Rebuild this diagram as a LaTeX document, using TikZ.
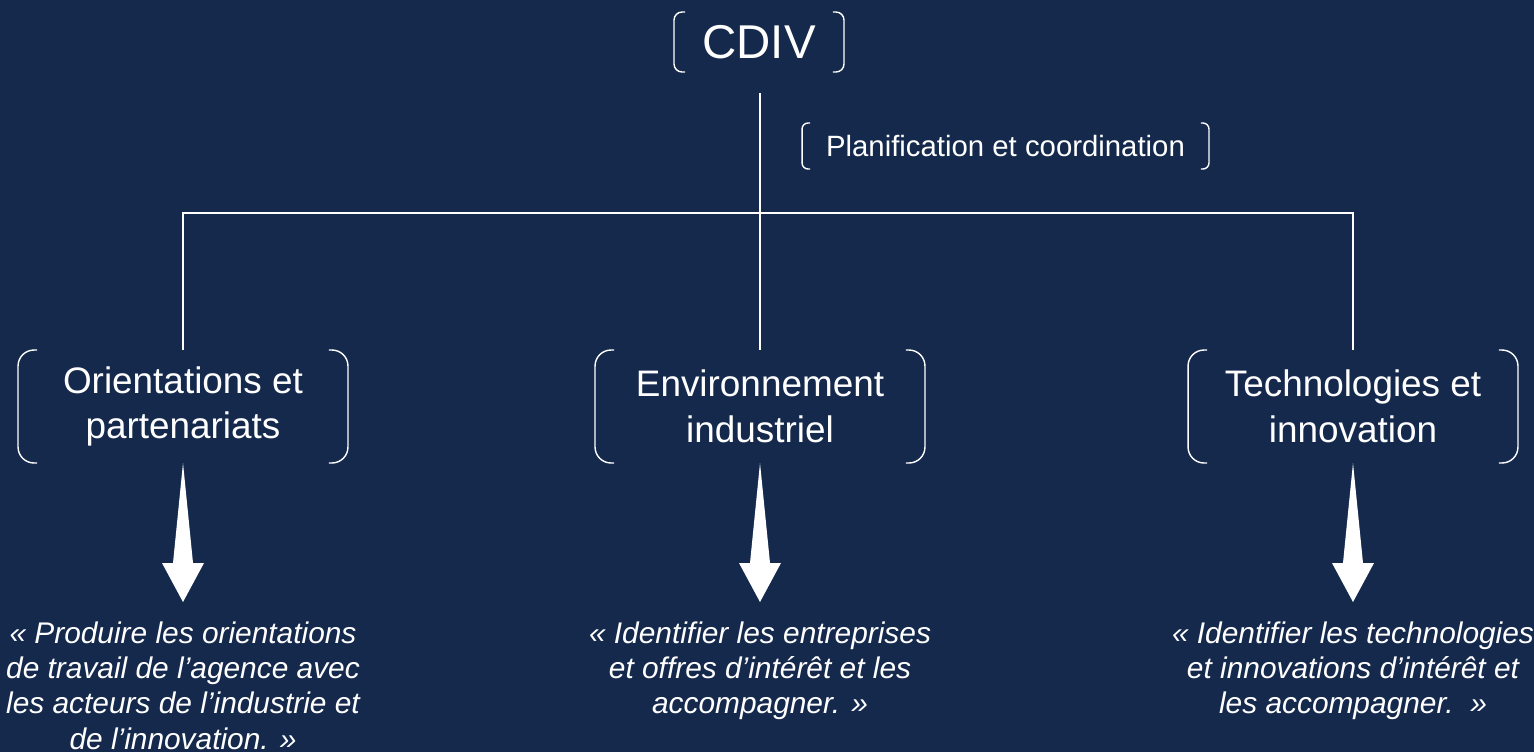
\documentclass[tikz,border=0pt]{standalone}
\usepackage{fontspec}
\setmainfont{Liberation Sans}
\definecolor{navy}{RGB}{21,41,77}

% white half-brackets on both sides of a node
\newcommand{\bracketpair}[3]{%
  \draw[link,rounded corners=#2] (#1.north west) ++(#3,0) -- (#1.north west) -- (#1.south west) -- ++(#3,0);
  \draw[link,rounded corners=#2] (#1.north east) ++(-#3,0) -- (#1.north east) -- (#1.south east) -- ++(-#3,0);
}

\begin{document}
\begin{tikzpicture}[x=0.02cm,y=-0.02cm,
    link/.style={white,line width=0.8pt},
    txt/.style={text=white,inner sep=0pt,outer sep=0pt,align=center},
    unit/.style={txt,minimum width=6.6cm,minimum height=2.26cm,font=\fontsize{21}{26}\selectfont,
      execute at begin node=\rule{0pt}{19pt}},
    quote/.style={txt,anchor=north,font=\fontsize{17}{20}\selectfont\itshape}]
    \fill[navy] (0,0) rectangle (1534,752);
    \useasboundingbox (0,0) rectangle (1534,752);

    % top of the chart
    \node[txt,minimum width=3.4cm,minimum height=1.2cm,font=\fontsize{27}{32}\selectfont] (cdiv) at (759,42) {CDIV};
    \bracketpair{cdiv}{0.16cm}{11}
    \node[txt,minimum width=8.14cm,minimum height=0.92cm,font=\fontsize{16.7}{20}\selectfont] (plan) at (1005.5,146) {Planification et coordination};
    \bracketpair{plan}{0.12cm}{8}

    % the three units
    \node[unit] (orient) at (183,406.5) {Orientations et\\partenariats};
    \node[unit] (envir) at (760,406.5) {Environnement\\industriel};
    \node[unit] (techno) at (1353,406.5) {Technologies et\\innovation};
    \bracketpair{orient}{0.32cm}{19}
    \bracketpair{envir}{0.32cm}{19}
    \bracketpair{techno}{0.32cm}{19}

    \coordinate (cdivfoot) at (760,93);
    \coordinate (hub) at (760,213);
    \draw[link] (cdivfoot) -- (envir.north);
    \draw[link] (orient.north) |- (hub) -| (techno.north);

    % big arrows
    \fill[white] (orient.south) -- ++(10,100) -- ++(11,0) -- ++(-21,39) -- ++(-21,-39) -- ++(11,0) -- cycle;
    \fill[white] (envir.south) -- ++(10,100) -- ++(11,0) -- ++(-21,39) -- ++(-21,-39) -- ++(11,0) -- cycle;
    \fill[white] (techno.south) -- ++(10,100) -- ++(11,0) -- ++(-21,39) -- ++(-21,-39) -- ++(11,0) -- cycle;

    % missions
    \node[quote] (orientq) at (183,622) {« Produire les orientations\\de travail de l’agence avec\\les acteurs de l’industrie et\\de l’innovation. »};
    \node[quote] (envirq) at (760,622) {« Identifier les entreprises\\et offres d’intérêt et les\\accompagner. »};
    \node[quote] (technoq) at (1353,622) {« Identifier les technologies\\et innovations d’intérêt et\\les accompagner.~~»};
\end{tikzpicture}
\end{document}
